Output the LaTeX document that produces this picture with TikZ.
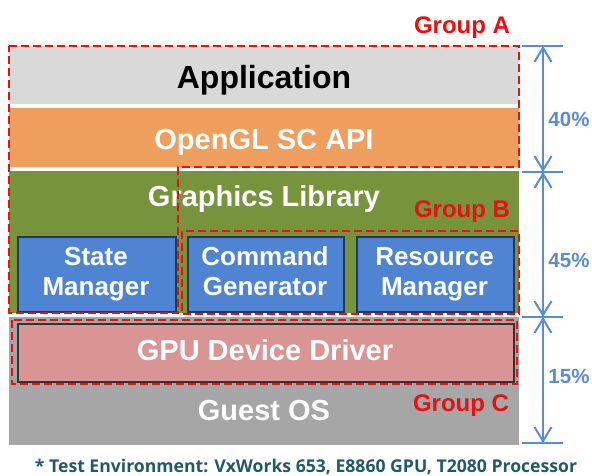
\documentclass[tikz,border=0pt]{standalone}
\usepackage{fontspec}
\setmainfont{Liberation Sans}
\newfontfamily\notefont{Open Sans}
\usetikzlibrary{arrows.meta}
\definecolor{appgray}{HTML}{D9D9D9}
\definecolor{apiorange}{HTML}{EE9F5E}
\definecolor{libgreen}{HTML}{77933C}
\definecolor{mgrblue}{HTML}{4F84D2}
\definecolor{mgrborder}{HTML}{1F3A5F}
\definecolor{drvpink}{HTML}{D99594}
\definecolor{osgray}{HTML}{A6A6A6}
\definecolor{grpred}{HTML}{E81010}
\definecolor{dimblue}{HTML}{5B8CCB}
\definecolor{noteteal}{HTML}{215967}
\begin{document}
\begin{tikzpicture}[x=1pt,y=-1pt,
  layer/.style={rectangle,inner sep=0pt,anchor=north west,minimum width=510pt},
  mgr/.style={rectangle,inner sep=0pt,anchor=north west,fill=mgrblue,draw=mgrborder,line width=1.8pt},
  ltext/.style={anchor=base,font=\bfseries\fontsize{29}{34}\selectfont,text=white},
  mtext/.style={anchor=base,align=center,font=\bfseries\fontsize{26}{30}\selectfont,text=white},
  group/.style={draw=grpred,line width=2pt,dash pattern=on 8pt off 4pt},
  gtext/.style={anchor=base,font=\bfseries\fontsize{24}{28}\selectfont,text=grpred},
  dim/.style={draw=dimblue,line width=2pt,{Straight Barb[length=14pt,width=17pt]}-{Straight Barb[length=14pt,width=17pt]}},
  tick/.style={draw=dimblue,line width=2pt},
  ptext/.style={anchor=base,font=\bfseries\fontsize{20.5}{24}\selectfont,text=dimblue}]
\useasboundingbox (0,0) rectangle (592,476);

% software stack layers
\node[layer,fill=appgray,minimum height=58pt] (app) at (9,46) {};
\node[layer,fill=apiorange,minimum height=59pt] (api) at (9,108) {};
\node[layer,fill=libgreen,minimum height=142pt] (lib) at (9,171) {};
\node[layer,fill=osgray,minimum height=128pt] (os) at (9,317) {};

% managers inside the graphics library
\node[mgr,minimum width=158pt,minimum height=75pt] (state) at (17,236) {};
\node[mgr,minimum width=156pt,minimum height=75pt] (cmd) at (187,236) {};
\node[mgr,minimum width=157pt,minimum height=75pt] (res) at (356,236) {};

% device driver
\node[rectangle,inner sep=0pt,anchor=north west,fill=drvpink,draw=black!80,line width=1.5pt,
      minimum width=496pt,minimum height=58pt] (drv) at (17,323) {};

% layer captions (two-line captions are placed by their last baseline)
\node[anchor=base,font=\bfseries\fontsize{32}{36}\selectfont] (appt) at (264,89) {Application};
\node[ltext] (apit) at (264,150) {OpenGL SC API};
\node[ltext] (libt) at (264,206) {Graphics Library};
\node[mtext] (statet) at (96,295) {State\\Manager};
\node[mtext] (cmdt) at (265,295) {Command\\Generator};
\node[mtext] (rest) at (434.5,295) {Resource\\Manager};
\node[ltext] (drvt) at (265,360) {GPU Device Driver};
\node[ltext] (ost) at (264,420) {Guest OS};

% groups
\draw[group] (9,46) -- (519,46) -- (519,167) -- (178,167) -- (178,313) -- (9,313) -- cycle;
\draw[group] (182,231) rectangle (519,314);
\draw[group] (12,320) rectangle (517,384);
\node[gtext] (ga) at (462,34) {Group A};
\node[gtext] (gb) at (462,217) {Group B};
\node[gtext] (gc) at (461,411) {Group C};

% proportion markers
\coordinate (t1) at (543,46);
\coordinate (t2) at (543,172);
\coordinate (t3) at (543,317);
\coordinate (t4) at (543,443);
\foreach \t in {t1,t2,t3,t4}{
  \draw[tick] ([xshift=-21pt]\t) -- ([xshift=20pt]\t);
}
\draw[dim] (t1) -- (t2);
\draw[dim] (t2) -- (t3);
\draw[dim] (t3) -- (t4);
\node[ptext] (p40) at (569,127) {40\%};
\node[ptext] (p45) at (569,267) {45\%};
\node[ptext] (p15) at (569,383) {15\%};

% footnote
\node[anchor=base,font=\notefont\bfseries\fontsize{17.6}{20}\selectfont,text=noteteal] (note) at (306,472)
  {* Test Environment: VxWorks 653, E8860 GPU, T2080 Processor};
\end{tikzpicture}
\end{document}
